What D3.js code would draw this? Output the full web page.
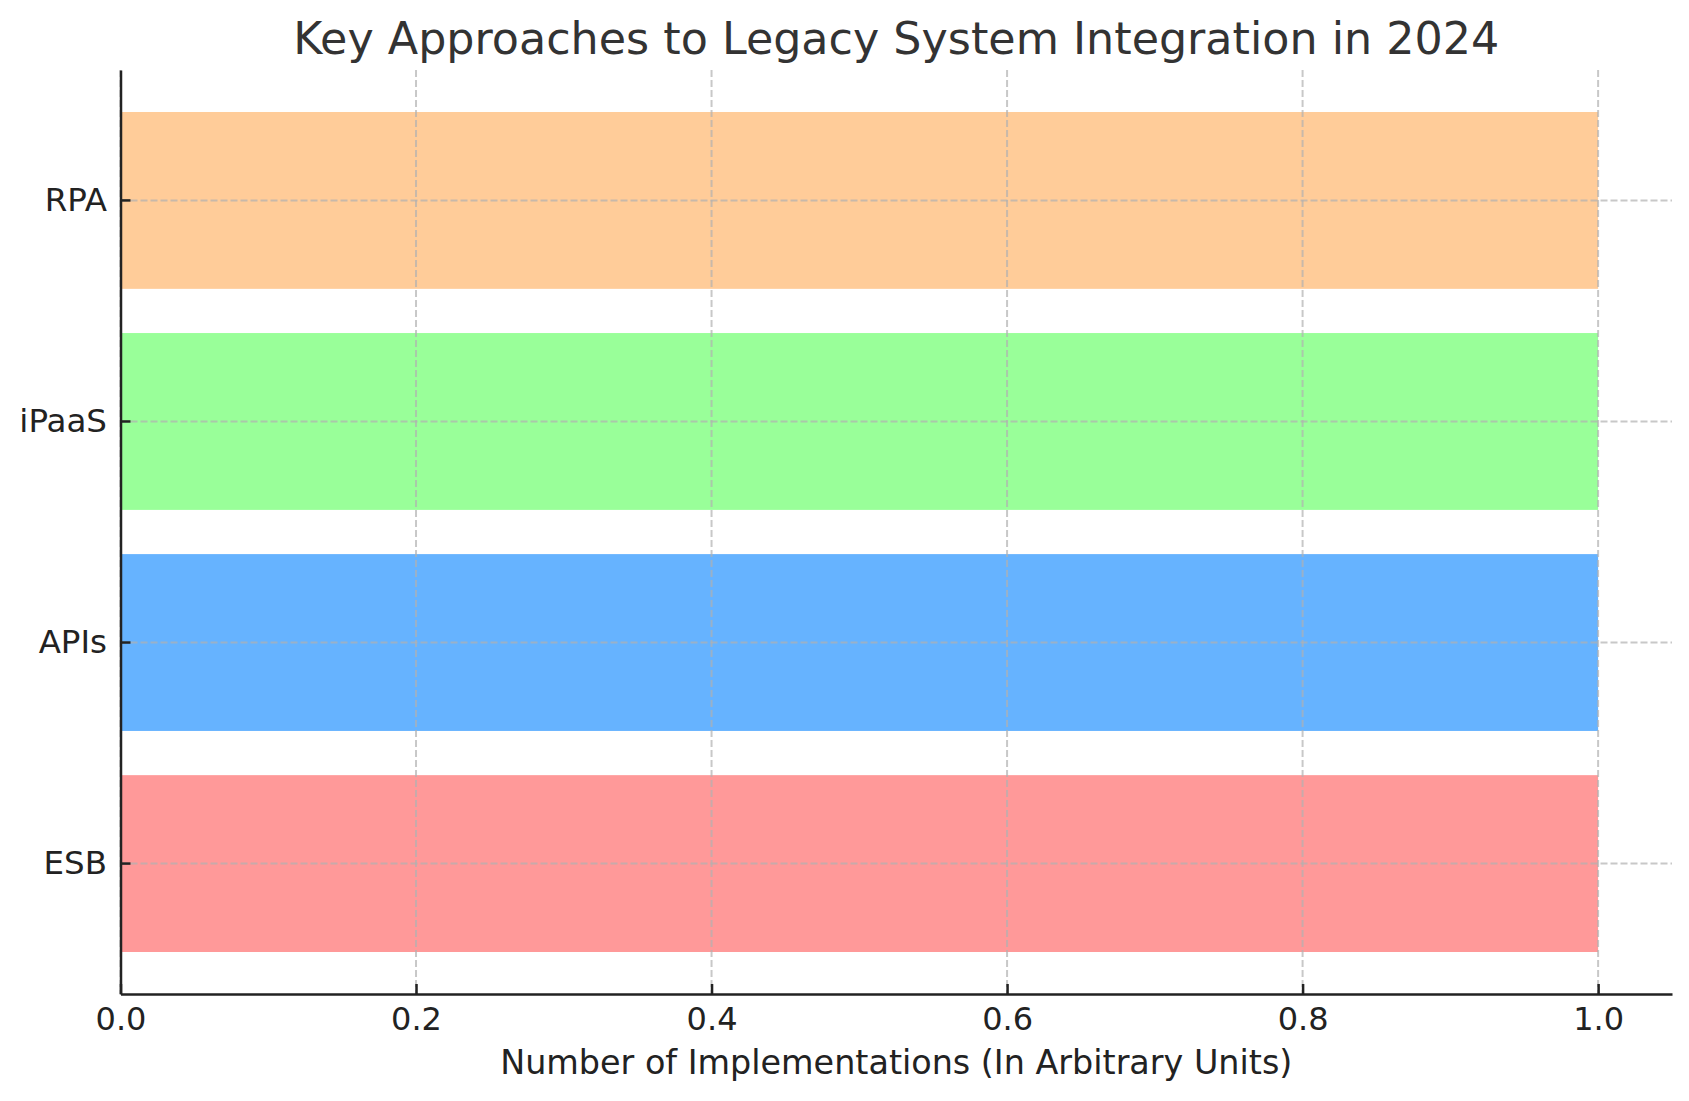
<!DOCTYPE html>
<html>
<head>
<meta charset="utf-8">
<script src="https://cdn.jsdelivr.net/npm/d3@7"></script>
<style>
  body { margin: 0; background: #fff; }
  svg text { font-family: "DejaVu Sans", sans-serif; }
</style>
</head>
<body>
<figure id="chart" style="margin:0"></figure>
<script>
// chart data
const approaches = ["ESB", "APIs", "iPaaS", "RPA"];
const implementations = [1, 1, 1, 1];
const barColors = ["#ff9999", "#66b3ff", "#99ff99", "#ffcc99"];
const xTicks = [0, 0.2, 0.4, 0.6, 0.8, 1.0];

const titleText = "Key Approaches to Legacy System Integration in 2024";
const xLabelText = "Number of Implementations (In Arbitrary Units)";

let dimensions = {
    width: 1689,
    height: 1101,
    margin: { top: 70, right: 17, bottom: 107, left: 120.5 },
};
dimensions.boundedWidth = dimensions.width - dimensions.margin.left - dimensions.margin.right;
dimensions.boundedHeight = dimensions.height - dimensions.margin.top - dimensions.margin.bottom;

const data = approaches.map((a, i) => ({ name: a, value: implementations[i], color: barColors[i] }));

const root = d3.select("figure#chart")
    .append("svg")
    .attr("width", dimensions.width)
    .attr("height", dimensions.height);

const svg = root.append("g")
    .attr("transform", `translate(${dimensions.margin.left}, ${dimensions.margin.top})`);

const xScale = d3.scaleLinear()
    .domain([0, 1.05])
    .range([0, dimensions.boundedWidth]);

// RPA at top, ESB at bottom
const yScale = d3.scaleBand()
    .domain(approaches.slice().reverse())
    .range([0, dimensions.boundedHeight])
    .paddingInner(0.2)
    .paddingOuter(0.19);

// bars
svg.selectAll("rect.bar")
    .data(data)
    .enter()
    .append("rect")
    .attr("class", "bar")
    .attr("x", xScale(0))
    .attr("y", d => yScale(d.name))
    .attr("width", d => xScale(d.value) - xScale(0))
    .attr("height", yScale.bandwidth())
    .attr("fill", d => d.color);

// grid lines (drawn over the bars)
const grid = svg.append("g")
    .attr("stroke", "#b0b0b0")
    .attr("stroke-opacity", 0.7)
    .attr("stroke-width", 2)
    .attr("stroke-dasharray", "7,3");

grid.selectAll("line.vgrid")
    .data(xTicks)
    .enter()
    .append("line")
    .attr("x1", d => xScale(d))
    .attr("x2", d => xScale(d))
    .attr("y1", 0)
    .attr("y2", dimensions.boundedHeight);

grid.selectAll("line.hgrid")
    .data(approaches)
    .enter()
    .append("line")
    .attr("x1", 0)
    .attr("x2", dimensions.boundedWidth)
    .attr("y1", d => yScale(d) + yScale.bandwidth() / 2)
    .attr("y2", d => yScale(d) + yScale.bandwidth() / 2);

// axes
const xAxis = svg.append("g")
    .attr("transform", `translate(0, ${dimensions.boundedHeight})`)
    .call(d3.axisBottom(xScale)
        .tickValues(xTicks)
        .tickFormat(d3.format(".1f"))
        .tickSizeInner(-10)
        .tickSizeOuter(0)
        .tickPadding(13));

const yAxis = svg.append("g")
    .call(d3.axisLeft(yScale)
        .tickSizeInner(-10)
        .tickSizeOuter(0)
        .tickPadding(13.5));

[xAxis, yAxis].forEach(ax => {
    ax.select(".domain").attr("stroke", "#222").attr("stroke-width", 2.5);
    ax.selectAll(".tick line").attr("stroke", "#222").attr("stroke-width", 2.5);
    ax.selectAll(".tick text")
        .attr("fill", "#222")
        .style("font-size", "32px");
});
yAxis.selectAll(".tick text").style("font-size", "32.5px");

// title and axis label
root.append("text")
    .attr("x", dimensions.margin.left + dimensions.boundedWidth / 2)
    .attr("y", 54)
    .attr("text-anchor", "middle")
    .attr("fill", "#333")
    .style("font-size", "44.4px")
    .text(titleText);

root.append("text")
    .attr("x", dimensions.margin.left + dimensions.boundedWidth / 2)
    .attr("y", 1074)
    .attr("text-anchor", "middle")
    .attr("fill", "#222")
    .style("font-size", "33.4px")
    .text(xLabelText);
</script>
</body>
</html>
